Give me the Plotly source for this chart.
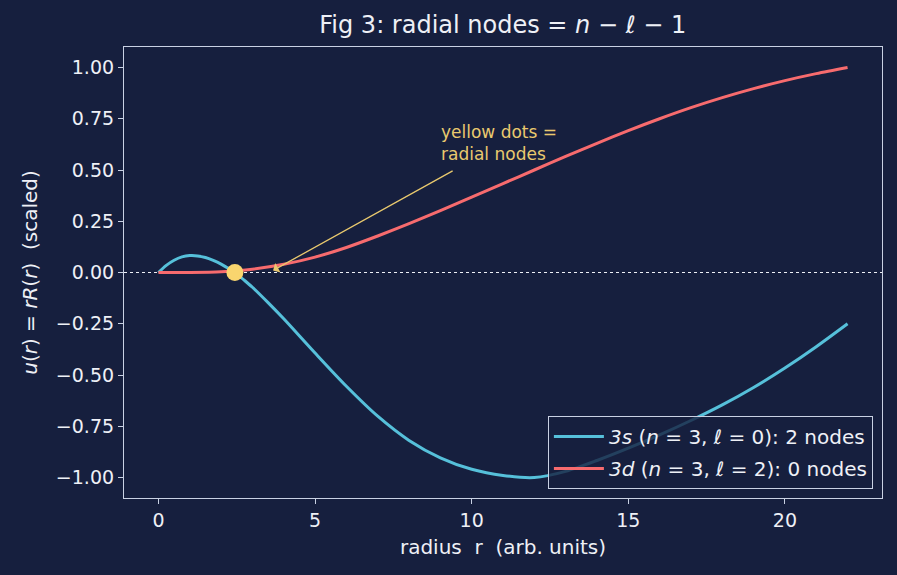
import plotly.graph_objects as go

# ---- data ----
r_3s = [0, 0.25, 0.5, 0.75, 1.0, 1.25, 1.5, 1.75, 2.0, 2.25, 2.5, 2.75, 3.0, 3.5,
        4, 5, 6, 7, 8, 9, 10, 11, 12, 13, 14, 15, 16, 17, 18, 19, 20, 21, 22]
u_3s = [0, 0.035, 0.06, 0.076, 0.0825, 0.081, 0.073, 0.059, 0.041, 0.018, -0.008,
        -0.039, -0.072, -0.147, -0.226, -0.393, -0.555, -0.701, -0.819, -0.904, -0.96,
        -0.99, -1.0, -0.97, -0.917, -0.857, -0.792, -0.722, -0.646, -0.561, -0.466,
        -0.362, -0.25]

r_3d = [0, 1, 2, 3, 4, 5, 6, 7, 8, 9, 10, 11, 12, 13, 14, 15, 16, 17, 18, 19, 20, 21, 22]
u_3d = [0, 0.0005, 0.004, 0.016, 0.04, 0.075, 0.122, 0.178, 0.238, 0.302, 0.368, 0.434,
        0.5, 0.566, 0.63, 0.692, 0.75, 0.804, 0.853, 0.897, 0.936, 0.97, 1.0]

node_r = [2.44]
node_u = [0.0]

x_ticks = [0, 5, 10, 15, 20]
y_ticks = [-1.0, -0.75, -0.5, -0.25, 0.0, 0.25, 0.5, 0.75, 1.0]

BG = "#161f3e"
FG = "#eef0f6"
SPINE = "#c9d1e3"
CYAN = "#56c0da"
RED = "#f76b6e"
YEL = "#f9d56e"
ANN = "#e9c96e"
FONT = "DejaVu Sans"

fig = go.Figure()
fig.add_trace(go.Scatter(
    x=r_3s, y=u_3s, mode="lines", line=dict(color=CYAN, width=3, shape="spline", smoothing=0.8),
    name="<i>3s</i> (<i>n</i> = 3, <i>ℓ</i> = 0): 2 nodes", legendgroup="a"))
fig.add_trace(go.Scatter(
    x=r_3d, y=u_3d, mode="lines", line=dict(color=RED, width=3, shape="spline", smoothing=0.8),
    name="<i>3d</i> (<i>n</i> = 3, <i>ℓ</i> = 2): 0 nodes", legendgroup="b"))
fig.add_trace(go.Scatter(
    x=node_r, y=node_u, mode="markers", marker=dict(color=YEL, size=17, line=dict(width=0)),
    showlegend=False))

# dotted zero line
fig.add_shape(type="line", xref="paper", x0=0, x1=1, yref="y", y0=0, y1=0,
              line=dict(color=FG, width=1, dash="dot"), layer="below")

# annotation arrow + text
fig.add_annotation(x=3.66, y=0.01, ax=9.44, ay=0.5, xref="x", yref="y", axref="x", ayref="y",
                   text="", showarrow=True, arrowhead=1, arrowsize=1.4, arrowwidth=1.3,
                   arrowcolor=ANN)
fig.add_annotation(x=8.97, y=0.745, xref="x", yref="y", xanchor="left", yanchor="top",
                   text="yellow dots =<br>radial nodes", showarrow=False, align="left",
                   font=dict(family=FONT, size=17, color=ANN))

fig.update_layout(
    width=897, height=575,
    paper_bgcolor=BG, plot_bgcolor=BG,
    margin=dict(l=124, r=15, t=47, b=77),
    font=dict(family=FONT, color=FG, size=19),
    title=dict(text="Fig 3: radial nodes = <i>n</i> − <i>ℓ</i> − 1", x=0.5605, xanchor="center",
               y=0.957, yanchor="middle", font=dict(size=24, color=FG, family=FONT)),
    legend=dict(x=0.988, xanchor="right", y=0.02, yanchor="bottom",
                bgcolor="rgba(22,31,62,0.8)", bordercolor=SPINE, borderwidth=1,
                itemwidth=50, tracegroupgap=3,
                font=dict(size=20, color=FG, family=FONT)),
    showlegend=True,
)
fig.update_xaxes(range=[-1.1, 23.1], tickvals=x_ticks, ticks="outside", ticklen=5,
                 tickcolor=SPINE, showline=True, linecolor=SPINE, linewidth=1.2, mirror=True,
                 showgrid=False, zeroline=False, tickfont=dict(size=19, color=FG),
                 title=dict(text="radius&nbsp;&nbsp;r&nbsp;&nbsp;(arb. units)",
                            font=dict(size=20, color=FG), standoff=10))
fig.update_yaxes(range=[-1.1, 1.1], tickvals=y_ticks, tickformat=".2f", ticks="outside", ticklen=5,
                 tickcolor=SPINE, showline=True, linecolor=SPINE, linewidth=1.2, mirror=True,
                 showgrid=False, zeroline=False, tickfont=dict(size=19, color=FG),
                 title=dict(text="<i>u</i>(<i>r</i>) = <i>rR</i>(<i>r</i>)&nbsp;&nbsp;(scaled)",
                            font=dict(size=20, color=FG), standoff=12))

fig.write_html("out.html")
